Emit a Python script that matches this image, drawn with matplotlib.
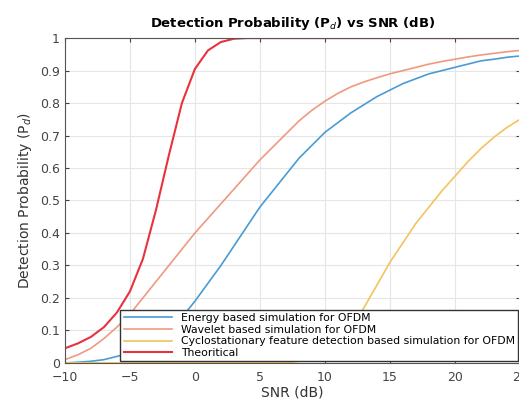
import matplotlib
matplotlib.use("Agg")
import matplotlib.pyplot as plt

# SNR values (dB) and read-off detection probabilities
snr = [-10, -9, -8, -7, -6, -5, -4, -3, -2, -1, 0, 1, 2, 3, 4, 5, 6, 7, 8, 9,
       10, 11, 12, 13, 14, 15, 16, 17, 18, 19, 20, 21, 22, 23, 24, 25]

pd_energy = [0.0, 0.002, 0.005, 0.01, 0.02, 0.03, 0.05, 0.07, 0.1, 0.14, 0.19,
             0.245, 0.3, 0.36, 0.42, 0.48, 0.53, 0.58, 0.63, 0.67, 0.71, 0.74,
             0.77, 0.795, 0.82, 0.84, 0.86, 0.875, 0.89, 0.9, 0.91, 0.92, 0.93,
             0.935, 0.941, 0.945]
pd_wavelet = [0.01, 0.025, 0.045, 0.075, 0.11, 0.15, 0.2, 0.25, 0.3, 0.35, 0.4,
              0.445, 0.49, 0.535, 0.58, 0.625, 0.665, 0.705, 0.745, 0.778, 0.806,
              0.83, 0.85, 0.865, 0.878, 0.89, 0.9, 0.91, 0.92, 0.928, 0.935,
              0.942, 0.948, 0.953, 0.958, 0.962]
pd_cyclo = [0, 0, 0, 0, 0, 0, 0, 0, 0, 0, 0, 0, 0, 0, 0, 0, 0, 0, 0.005, 0.015,
            0.03, 0.06, 0.1, 0.17, 0.24, 0.31, 0.37, 0.43, 0.48, 0.53, 0.575,
            0.62, 0.66, 0.695, 0.725, 0.75]
pd_theory = [0.045, 0.06, 0.08, 0.11, 0.155, 0.22, 0.32, 0.47, 0.64, 0.8, 0.905,
             0.962, 0.988, 0.998, 1, 1, 1, 1, 1, 1, 1, 1, 1, 1, 1, 1, 1, 1, 1, 1,
             1, 1, 1, 1, 1, 1]

labels = ["Energy based simulation for OFDM",
          "Wavelet based simulation for OFDM",
          "Cyclostationary feature detection based simulation for OFDM",
          "Theoritical"]

fig = plt.figure(figsize=(5.19, 4.01), dpi=100)
ax = fig.add_axes([0.125, 0.095, 0.877, 0.81])

ax.plot(snr, pd_energy, color="#4a9bd4", lw=1.2, label=labels[0])
ax.plot(snr, pd_wavelet, color="#ee9a80", lw=1.2, label=labels[1])
ax.plot(snr, pd_cyclo, color="#f2c45e", lw=1.2, label=labels[2])
ax.plot(snr, pd_theory, color="#e8323c", lw=1.5, label=labels[3])

ax.set_xlim(-10, 25)
ax.set_ylim(0, 1)
ax.set_xticks(range(-10, 26, 5))
ax.set_yticks([i / 10 for i in range(11)])
ax.set_yticklabels(["0", "0.1", "0.2", "0.3", "0.4", "0.5", "0.6", "0.7",
                    "0.8", "0.9", "1"])
ax.grid(True, color="#e6e6e6", lw=0.8)
ax.tick_params(labelsize=9, colors="#444444", direction="in", length=3,
               top=True, right=True)
ax.tick_params(axis="x", pad=6)
for s in ax.spines.values():
    s.set_color("#555555")

ax.set_title("Detection Probability (P$_d$) vs SNR (dB)", fontsize=9.5,
             fontweight="bold", pad=8)
ax.set_xlabel("SNR (dB)", fontsize=10, color="#333333", labelpad=1)
ax.set_ylabel("Detection Probability (P$_d$)", fontsize=10, color="#333333")

leg = ax.legend(loc="lower right", fontsize=7.8, fancybox=False,
                framealpha=1, edgecolor="#333333", borderpad=0.3,
                labelspacing=0.15, handlelength=4.5, borderaxespad=0.15)
leg.get_frame().set_linewidth(1.0)

fig.savefig("out.png", dpi=100)
